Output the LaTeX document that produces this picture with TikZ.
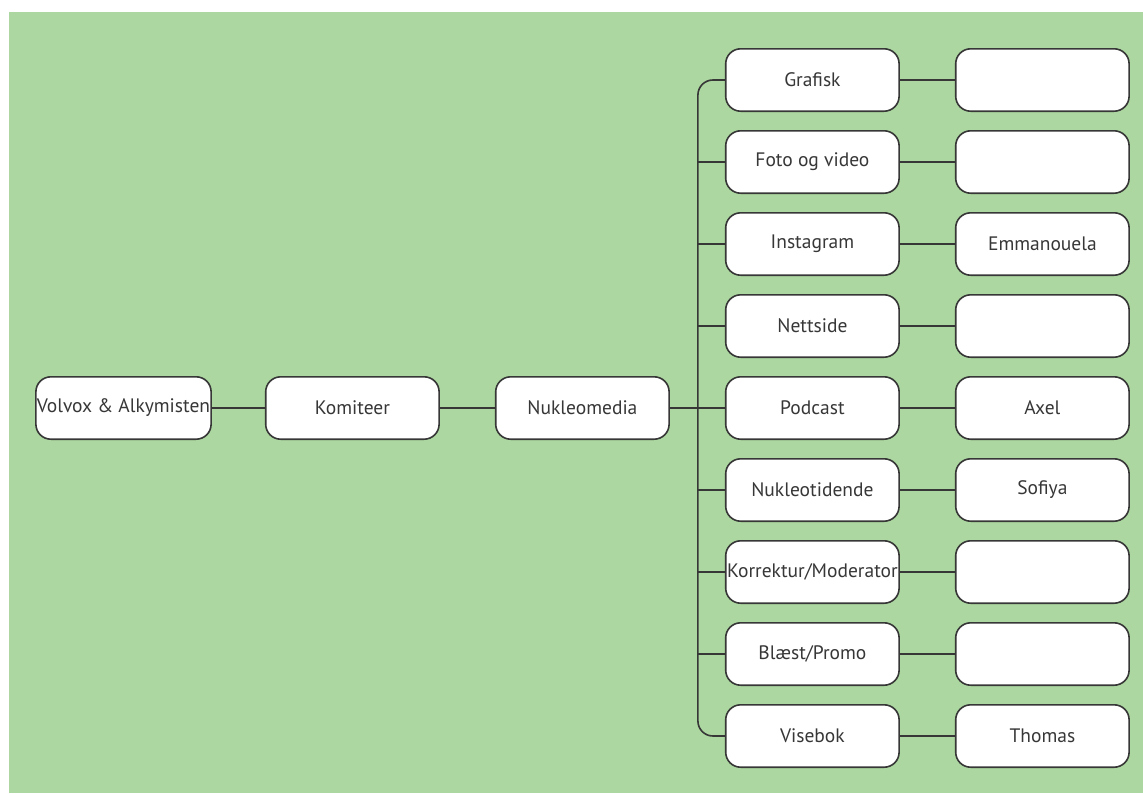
\documentclass[tikz,border=0pt]{standalone}
\usepackage{fontspec}
\setmainfont{PT Sans}
\usetikzlibrary{positioning}
\definecolor{bakgrunn}{RGB}{172,215,160}
\definecolor{strek}{RGB}{55,55,55}
\tikzset{
    %Define style for boxes
    boks/.style={
           rectangle,
           rounded corners=15pt,
           draw=strek, line width=1.6pt,
           fill=white,
           text=strek,
           minimum width=173.4pt,
           minimum height=62.4pt,
           inner sep=1pt,
           font=\fontsize{19.5}{22}\selectfont,
           text centered},
    % Define line style
    linje/.style={
           draw=strek,
           line width=1.6pt}
}
\begin{document}
\begin{tikzpicture}[x=1pt, y=1pt, node distance=18pt and 55pt]

\useasboundingbox (0,0) rectangle (1143,-793);
%background
\fill[bakgrunn] (9,-12) rectangle (1143,-793);

%main chain
\node[boks] (volvox) at (123.5,-408) {Volvox \& Alkymisten};
\node[boks, right=53pt of volvox] (komiteer) {Komiteer};
\node[boks, right=of komiteer] (nukleomedia) {Nukleomedia};

%groups, placed from the middle row
\node[boks, right=of nukleomedia] (podcast) {Podcast};
\node[boks, above=of podcast] (nettside) {Nettside};
\node[boks, above=of nettside] (instagram) {Instagram};
\node[boks, above=of instagram] (foto) {Foto og video};
\node[boks, above=of foto] (grafisk) {Grafisk};
\node[boks, below=of podcast] (nukleotidende) {Nukleotidende};
\node[boks, below=of nukleotidende] (korrektur) {Korrektur/Moderator};
\node[boks, below=of korrektur] (blaest) {Blæst/Promo};
\node[boks, below=of blaest] (visebok) {Visebok};

%people
\node[boks, right=of grafisk] (grafiskP) {};
\node[boks, right=of foto] (fotoP) {};
\node[boks, right=of instagram] (instagramP) {Emmanouela};
\node[boks, right=of nettside] (nettsideP) {};
\node[boks, right=of podcast] (podcastP) {Axel};
\node[boks, right=of nukleotidende] (nukleotidendeP) {Sofiya};
\node[boks, right=of korrektur] (korrekturP) {};
\node[boks, right=of blaest] (blaestP) {};
\node[boks, right=of visebok] (visebokP) {Thomas};

%connections
\draw[linje] (volvox) -- (komiteer);
\draw[linje] (komiteer) -- (nukleomedia);
\draw[linje] (nukleomedia) -- (podcast);
\draw[linje, rounded corners=15pt] (grafisk.west) -- ++(-27pt,0) |- (visebok.west);
\draw[linje] (foto.west) -- ++(-27pt,0);
\draw[linje] (instagram.west) -- ++(-27pt,0);
\draw[linje] (nettside.west) -- ++(-27pt,0);
\draw[linje] (nukleotidende.west) -- ++(-27pt,0);
\draw[linje] (korrektur.west) -- ++(-27pt,0);
\draw[linje] (blaest.west) -- ++(-27pt,0);

\draw[linje] (grafisk) -- (grafiskP);
\draw[linje] (foto) -- (fotoP);
\draw[linje] (instagram) -- (instagramP);
\draw[linje] (nettside) -- (nettsideP);
\draw[linje] (podcast) -- (podcastP);
\draw[linje] (nukleotidende) -- (nukleotidendeP);
\draw[linje] (korrektur) -- (korrekturP);
\draw[linje] (blaest) -- (blaestP);
\draw[linje] (visebok) -- (visebokP);

\end{tikzpicture}
\end{document}
